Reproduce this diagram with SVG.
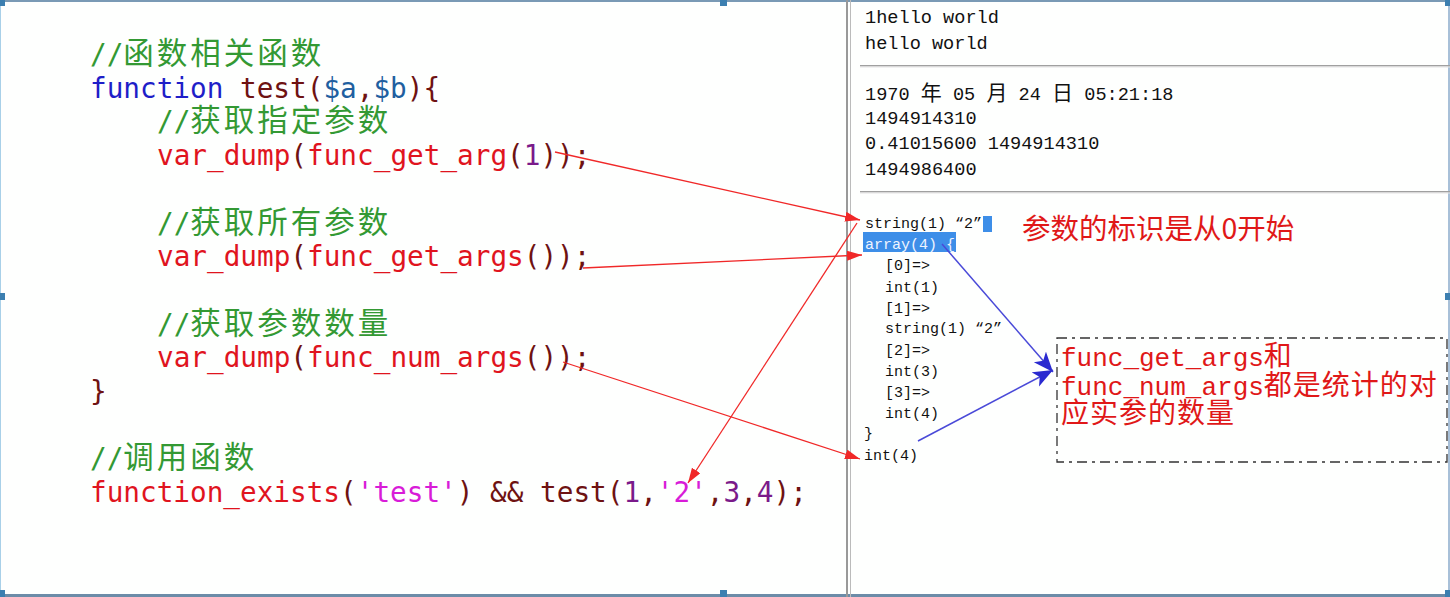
<svg xmlns="http://www.w3.org/2000/svg" width="1450" height="597" viewBox="0 0 1450 597">
<style>
.code{font-family:"DejaVu Sans Mono","Noto Sans CJK SC",monospace;font-size:27.7px;}
.cm{fill:#339933;}
.cj{font-size:30.5px;letter-spacing:3px;}
.kw{fill:#1e1ec8;}
.mr{fill:#6e1212;}
.rd{fill:#e0141e;}
.vr{fill:#1f5fa0;}
.num{fill:#7a1a8a;}
.str{fill:#d81cd8;}
.out{font-family:"Liberation Mono","Noto Sans CJK SC",monospace;font-size:18.6px;fill:#111;}
.out2{font-family:"Liberation Mono","Noto Sans CJK SC",monospace;font-size:15px;fill:#111;}
.note{font-family:"Liberation Mono","Noto Sans CJK SC",monospace;font-size:26px;fill:#e01818;}
.ncj{font-size:28px;letter-spacing:1px;}
.red{stroke:#f02828;stroke-width:1.3;fill:none;}
.blue{stroke:#4a4ad8;stroke-width:1.5;fill:none;}
.hdl{fill:#3c7fb0;}
</style>
<defs>
<marker id="ra" markerUnits="userSpaceOnUse" markerWidth="16" markerHeight="12" refX="15" refY="5" orient="auto">
<path d="M0,0 L15,5 L0,10 z" fill="#f02828"/>
</marker>
<marker id="ba" markerUnits="userSpaceOnUse" markerWidth="22" markerHeight="18" refX="20" refY="8" orient="auto">
<path d="M0,0 L20,8 L0,16 L5,8 z" fill="#2a2ad0"/>
</marker>
</defs>
<rect x="0" y="0" width="1450" height="597" fill="#fefffe"/>
<g id="frame">
<rect x="0" y="0" width="1450" height="2" fill="#7a9ab5"/>
<rect x="0" y="594" width="1450" height="3" fill="#6c8ca8"/>
<rect x="0" y="0" width="1" height="597" fill="#a8d0e8"/>
<rect x="1448" y="0" width="2" height="597" fill="#a8c0d8"/>
<rect x="846" y="0" width="2" height="597" fill="#999"/>
<rect x="850" y="0" width="1" height="597" fill="#bbb"/>
<rect class="hdl" x="0" y="0" width="5" height="6"/>
<rect class="hdl" x="720" y="0" width="7" height="6"/>
<rect class="hdl" x="1445" y="0" width="5" height="6"/>
<rect class="hdl" x="0" y="293" width="5" height="7"/>
<rect class="hdl" x="1445" y="293" width="5" height="7"/>
<rect class="hdl" x="0" y="590" width="5" height="7"/>
<rect class="hdl" x="720" y="590" width="7" height="7"/>
<rect class="hdl" x="1445" y="590" width="5" height="7"/>
</g>
<g id="code" class="code" xml:space="preserve">
<text x="90" y="64" class="cm">//<tspan class="cj">函数相关函数</tspan></text>
<text x="90" y="97.7"><tspan class="kw">function</tspan><tspan class="mr"> test(</tspan><tspan class="vr">$a</tspan><tspan class="mr">,</tspan><tspan class="vr">$b</tspan><tspan class="mr">){</tspan></text>
<text x="157" y="131.4" class="cm">//<tspan class="cj">获取指定参数</tspan></text>
<text x="157" y="165.1"><tspan class="rd">var_dump</tspan><tspan class="mr">(</tspan><tspan class="rd">func_get_arg</tspan><tspan class="mr">(</tspan><tspan class="num">1</tspan><tspan class="mr">));</tspan></text>
<text x="157" y="232.5" class="cm">//<tspan class="cj">获取所有参数</tspan></text>
<text x="157" y="266.2"><tspan class="rd">var_dump</tspan><tspan class="mr">(</tspan><tspan class="rd">func_get_args</tspan><tspan class="mr">());</tspan></text>
<text x="157" y="333.6" class="cm">//<tspan class="cj">获取参数数量</tspan></text>
<text x="157" y="367.3"><tspan class="rd">var_dump</tspan><tspan class="mr">(</tspan><tspan class="rd">func_num_args</tspan><tspan class="mr">());</tspan></text>
<text x="90" y="401" class="mr">}</text>
<text x="90" y="468.4" class="cm">//<tspan class="cj">调用函数</tspan></text>
<text x="90" y="502.1"><tspan class="rd">function_exists</tspan><tspan class="mr">(</tspan><tspan class="str">'test'</tspan><tspan class="mr">) &amp;&amp; test(</tspan><tspan class="num">1</tspan><tspan class="mr">,</tspan><tspan class="str">'2'</tspan><tspan class="mr">,</tspan><tspan class="num">3</tspan><tspan class="mr">,</tspan><tspan class="num">4</tspan><tspan class="mr">);</tspan></text>
</g>
<g id="output-top" class="out" xml:space="preserve">
<text x="865" y="23">1hello world</text>
<text x="865" y="49">hello world</text>
<rect x="860" y="65" width="590" height="1.5" fill="#a0a0a0"/>
<rect x="860" y="66.5" width="590" height="1" fill="#e4e4e4"/>
<text x="865" y="100">1970 <tspan font-size="21">年</tspan> 05 <tspan font-size="21">月</tspan> 24 <tspan font-size="21">日</tspan> 05:21:18</text>
<text x="865" y="124">1494914310</text>
<text x="865" y="149">0.41015600 1494914310</text>
<text x="865" y="175">1494986400</text>
<rect x="860" y="191" width="590" height="1.5" fill="#a0a0a0"/>
<rect x="860" y="192.5" width="590" height="1" fill="#e4e4e4"/>
</g>
<g id="output-dump" class="out2" xml:space="preserve">
<rect x="983" y="216" width="9" height="16" fill="#3d8ee8"/>
<text x="865" y="228">string(1) “2”</text>
<rect x="863" y="232" width="93" height="20" fill="#3d8ee8"/>
<text x="865" y="249" fill="#eef4ff">array(4) {</text>
<text x="885" y="270">[0]=&gt;</text>
<text x="885" y="292">int(1)</text>
<text x="885" y="313">[1]=&gt;</text>
<text x="885" y="333">string(1) “2”</text>
<text x="885" y="355">[2]=&gt;</text>
<text x="885" y="376">int(3)</text>
<text x="885" y="397">[3]=&gt;</text>
<text x="885" y="418">int(4)</text>
<text x="864" y="438">}</text>
<text x="864" y="460">int(4)</text>
</g>
<g id="note-index">
<text x="1022" y="239" font-family="'Noto Sans CJK SC',sans-serif" font-size="28.5" fill="#e01818">参数的标识是从0开始</text>
</g>
<g id="note-box">
<rect x="1057" y="338" width="390" height="124" fill="none" stroke="#333" stroke-width="1.3" stroke-dasharray="10,5,3,5"/>
<text class="note" x="1061" y="366">func_get_args<tspan class="ncj">和</tspan></text>
<text class="note" x="1061" y="395">func_num_args<tspan class="ncj">都是统计的对</tspan></text>
<text class="note" x="1061" y="423"><tspan class="ncj">应实参的数量</tspan></text>
</g>
<g id="connectors">
<line class="red" x1="555" y1="152" x2="860" y2="220" marker-end="url(#ra)"/>
<line class="red" x1="583" y1="268" x2="862" y2="255" marker-end="url(#ra)"/>
<line class="red" x1="563" y1="362" x2="860" y2="459" marker-end="url(#ra)"/>
<line class="red" x1="857" y1="223" x2="688" y2="483" marker-end="url(#ra)"/>
<line class="blue" x1="942" y1="244" x2="1053" y2="372" marker-end="url(#ba)"/>
<line class="blue" x1="918" y1="441" x2="1053" y2="370" marker-end="url(#ba)"/>
</g>
</svg>
